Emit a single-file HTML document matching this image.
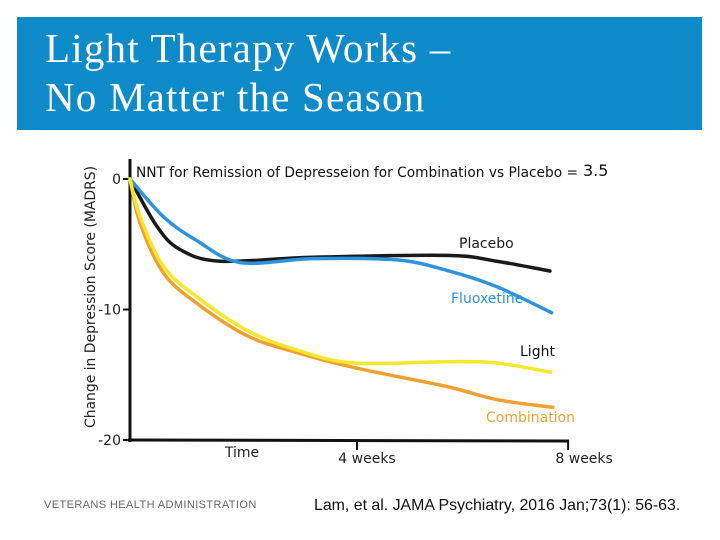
<!DOCTYPE html>
<html><head><meta charset="utf-8"><style>
body{margin:0;width:720px;height:540px;background:#fff;overflow:hidden;position:relative;font-family:"Liberation Sans",sans-serif}
#hdr{position:absolute;left:17px;top:17px;width:685px;height:113px;background:#0d8bc9}
#title{position:absolute;left:28px;top:7px;color:#fff;font-family:"Liberation Serif",serif;font-size:41px;letter-spacing:1.2px;line-height:49px}
#foot1{position:absolute;left:44px;top:499px;font-size:11px;letter-spacing:0.4px;color:#666}
#foot2{position:absolute;left:314px;top:497px;font-size:15.9px;color:#111}
svg{position:absolute;left:0;top:0;font-family:"DejaVu Sans",sans-serif}
</style></head><body>
<div id="hdr"><div id="title">Light Therapy Works –<br>No Matter the Season</div></div>
<svg id="chart" width="720" height="540"></svg>
<div id="foot1">VETERANS HEALTH ADMINISTRATION</div>
<div id="foot2">Lam, et al. JAMA Psychiatry, 2016 Jan;73(1): 56-63.</div>
<script>
const weeks = {
 placebo:[0,0.47,0.88,1.59,3.22,5.58,6.46,7.4],
 fluox:[0,0.59,1.17,1.94,3.22,4.7,5.58,6.46,7.43],
 light:[0,0.18,0.59,1.17,2.06,2.94,3.94,5.58,6.46,7.41],
 combo:[0,0.18,0.59,1.17,2.06,2.94,4.0,5.58,6.46,7.45]
};
const placeboVals=[0,-3.6,-5.4,-6.3,-6.0,-5.85,-6.3,-7.05];
const fluoxVals=[0,-2.9,-4.7,-6.4,-6.1,-6.2,-7.0,-8.25,-10.25];
const lightVals=[0,-2.9,-6.7,-9.0,-11.6,-13.1,-14.1,-14.0,-14.1,-14.8];
const comboVals=[0,-3.4,-7.2,-9.5,-12.0,-13.3,-14.5,-15.9,-16.9,-17.5];
const yTicks=[0,-10,-20];
const yTickLabels=["0","-10","-20"];
const xTicks=[4,7.72];
const xTickLabels=["4 weeks","8 weeks"];
function X(w){return 130+w*56.75;}
function Y(v){return 179-v*13.05;}
const svg=document.getElementById('chart');
const NS='http://www.w3.org/2000/svg';
function mk(t,a){const e=document.createElementNS(NS,t);for(const k in a)e.setAttribute(k,a[k]);svg.appendChild(e);return e;}
function path(ws,vs){const p=ws.map((w,i)=>[X(w),Y(vs[i])]);let d='M'+p[0][0]+','+p[0][1];
 for(let i=0;i<p.length-1;i++){const p0=p[i-1]||p[i],p1=p[i],p2=p[i+1],p3=p[i+2]||p2;
 d+=' C'+(p1[0]+(p2[0]-p0[0])/6)+','+(p1[1]+(p2[1]-p0[1])/6)+' '+(p2[0]-(p3[0]-p1[0])/6)+','+(p2[1]-(p3[1]-p1[1])/6)+' '+p2[0]+','+p2[1];}return d;}
let e;
e=mk('line',{x1:130,y1:Y(0)-20,x2:130,y2:Y(-20)+2,stroke:'#111','stroke-width':3});


e=mk('line',{x1:128,y1:Y(-20),x2:569,y2:Y(-20)+1,stroke:'#111','stroke-width':3});


yTicks.forEach((v,i)=>{
 e=mk('line',{x1:123,y1:Y(v),x2:130,y2:Y(v),stroke:'#111','stroke-width':2});
 
 
 e=mk('text',{x:121,y:Y(v)+5,'text-anchor':'end','font-size':14,fill:'#222'});e.textContent=yTickLabels[i];
 
 
});
xTicks.forEach((w,i)=>{
 e=mk('line',{x1:X(w),y1:Y(-20),x2:X(w),y2:Y(-20)+10,stroke:'#111','stroke-width':2});
 
 
 e=mk('text',{x:X(w)+(i?16:10),y:Y(-20)+23,'text-anchor':'middle','font-size':14,fill:'#222'});e.textContent=xTickLabels[i];
 
 
});
e=mk('text',{x:242,y:457,'text-anchor':'middle','font-size':14,fill:'#222'});e.textContent='Time';


e=mk('text',{x:0,y:0,transform:'translate(95,297) rotate(-90)','text-anchor':'middle','font-size':14,fill:'#222',textLength:262,lengthAdjust:'spacingAndGlyphs'});e.textContent='Change in Depression Score (MADRS)';


e=mk('text',{x:136,y:177,'font-size':14,fill:'#111',textLength:442,lengthAdjust:'spacingAndGlyphs'});e.textContent='NNT for Remission of Depresseion for Combination vs Placebo =';


e=mk('text',{x:583,y:176,'font-size':16,fill:'#111'});e.textContent='3.5';


const series=[['placebo',placeboVals,'#1a1a1a','Placebo',459,248],['fluox',fluoxVals,'#2f93dc','Fluoxetine',451,303],['combo',comboVals,'#f0a030','Combination',486,422],['light',lightVals,'#f5e82a','Light',520,356]];
series.forEach(s=>{
 e=mk('path',{d:path(weeks[s[0]],s[1]),fill:'none',stroke:s[2],'stroke-width':3.5,'stroke-linecap':'round'});
 
 
 e=mk('text',{x:s[4],y:s[5],'font-size':14,fill:s[0]==='light'?'#111':s[2]});e.textContent=s[3];
 
 
});
</script>
</body></html>
